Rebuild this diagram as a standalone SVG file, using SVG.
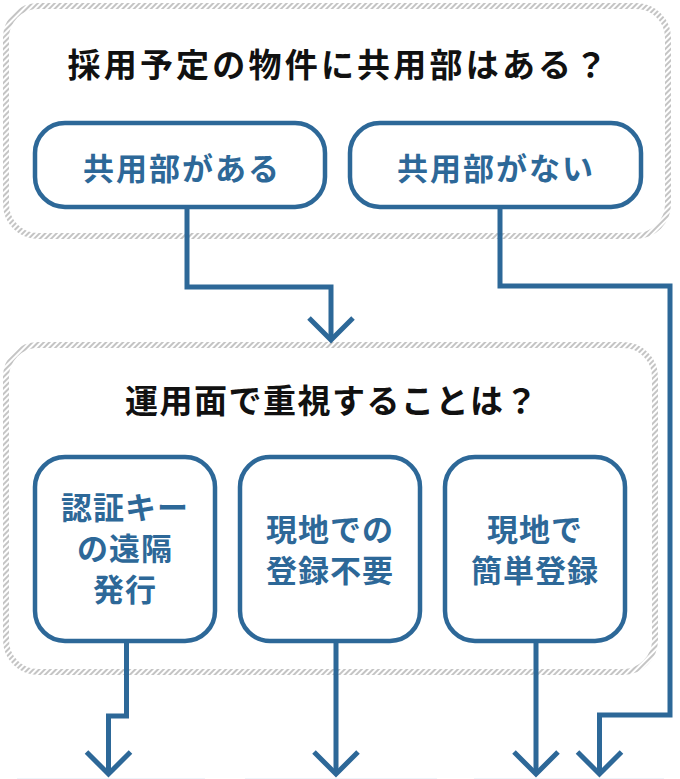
<svg xmlns="http://www.w3.org/2000/svg" width="680" height="779" viewBox="0 0 680 779">
<defs>
<pattern id="hatch" patternUnits="userSpaceOnUse" width="4" height="4" patternTransform="rotate(45)">
<rect width="4" height="4" fill="#ffffff"/>
<rect width="2" height="4" fill="#c4c4c4"/>
</pattern>
<style>
.panel{fill:#ffffff;stroke:url(#hatch);stroke-width:6}
.node{fill:#ffffff;stroke:#2d6898;stroke-width:4.5}
.q{font-family:"Noto Sans CJK JP","Noto Sans",sans-serif;font-weight:700;font-size:33px;fill:#111111;text-anchor:middle;letter-spacing:1.5px}
.q1{letter-spacing:3.2px}
.t{font-family:"Noto Sans CJK JP","Noto Sans",sans-serif;font-weight:700;font-size:31px;fill:#2d6898;text-anchor:middle;letter-spacing:1px}
.t2{letter-spacing:2px}
.c{fill:none;stroke:#2d6898;stroke-width:5;stroke-linejoin:miter}
.a{fill:none;stroke:#2d6898;stroke-width:5;stroke-linejoin:miter;stroke-linecap:butt}
.f{fill:#eef4fa}
</style>
</defs>
<rect width="680" height="779" fill="#ffffff"/>
<g id="panel1">
<rect class="panel" x="6" y="6" width="662" height="230" rx="32"/>
<text class="q q1" x="339" y="77">採用予定の物件に共用部はある？</text>
</g>
<g id="panel2">
<rect class="panel" x="6" y="345" width="649" height="327" rx="32"/>
<text class="q" x="332" y="413">運用面で重視することは？</text>
</g>
<g id="node-yes">
<rect class="node" x="35" y="123" width="290" height="84" rx="30"/>
<text class="t t2" x="182" y="180">共用部がある</text>
</g>
<g id="node-no">
<rect class="node" x="350" y="123" width="291" height="84" rx="30"/>
<text class="t t2" x="496" y="180">共用部がない</text>
</g>
<g id="node-remote">
<rect class="node" x="35" y="457" width="180" height="184" rx="30"/>
<text class="t" x="125" y="519">認証キー</text>
<text class="t" x="125" y="560">の遠隔</text>
<text class="t" x="125" y="601">発行</text>
</g>
<g id="node-noreg">
<rect class="node" x="240" y="457" width="180" height="184" rx="30"/>
<text class="t" x="330" y="541">現地での</text>
<text class="t" x="330" y="582">登録不要</text>
</g>
<g id="node-easyreg">
<rect class="node" x="445" y="457" width="180" height="184" rx="30"/>
<text class="t" x="535" y="541">現地で</text>
<text class="t" x="535" y="582">簡単登録</text>
</g>
<g id="connectors">
<path class="c" d="M187,209 V287 H331 V339"/>
<path class="a" d="M309,318 L331,340 L353,318"/>
<path class="c" d="M500,209 V286 H670 V715 H599.5 V773"/>
<path class="a" d="M577.5,752 L599.5,774 L621.5,752"/>
<path class="c" d="M126.5,643 V716 H108.5 V773"/>
<path class="a" d="M86.5,752 L108.5,774 L130.5,752"/>
<path class="c" d="M336,643 V773"/>
<path class="a" d="M314,752 L336,774 L358,752"/>
<path class="c" d="M536,643 V773"/>
<path class="a" d="M514,752 L536,774 L558,752"/>
</g>
<g id="bottom-edges">
<rect class="f" x="17" y="778" width="188" height="1"/>
<rect class="f" x="245" y="778" width="192" height="1"/>
<rect class="f" x="474" y="778" width="190" height="1"/>
</g>
</svg>
